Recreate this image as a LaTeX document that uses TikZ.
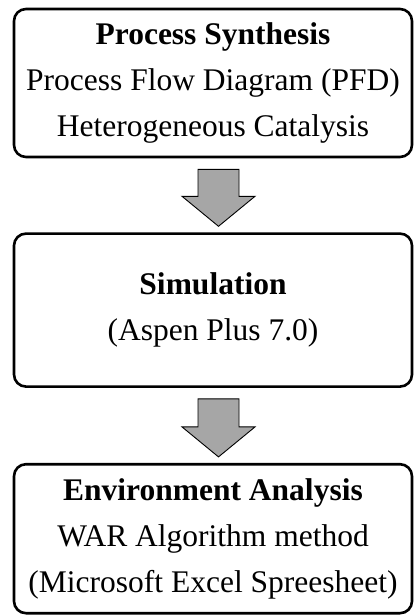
\documentclass[tikz,border=0pt]{standalone}
\usepackage{fontspec}
\setmainfont{Liberation Serif}
\usetikzlibrary{positioning,calc}
\definecolor{arrowgray}{RGB}{166,166,166}

\begin{document}
\begin{tikzpicture}[x=1pt,y=1pt,
    stage/.style={draw,line width=2.6pt,rounded corners=12pt,minimum width=398pt,
      align=center,inner sep=0pt,font=\fontsize{31.5}{46}\selectfont},
    blockarrow/.style={draw,line width=0.9pt,fill=arrowgray}]
\useasboundingbox (0,0) rectangle (415,-615);
\node[stage,minimum height=148pt] (synth) at (213,-83)
    {\textbf{Process Synthesis}\\Process Flow Diagram (PFD)\\Heterogeneous Catalysis};
\node[stage,minimum height=153pt,below=74pt of synth] (sim)
    {\textbf{Simulation}\\(Aspen Plus 7.0)};
\node[stage,minimum height=149pt,below=75pt of sim] (env)
    {\textbf{Environment Analysis}\\WAR Algorithm method\\(Microsoft Excel Spreesheet)};
% block arrows between the stages
\foreach \a/\b in {synth/sim,sim/env}{
  \coordinate (top) at ([xshift=5.5pt,yshift=-11pt]\a.south);
  \coordinate (tip) at ([xshift=5.5pt,yshift=6pt]\b.north);
  \draw[blockarrow] ([xshift=-20.5pt]top) -- ([xshift=-20.5pt,yshift=30pt]tip)
    -- ([xshift=-36.5pt,yshift=30pt]tip) -- (tip)
    -- ([xshift=36.5pt,yshift=30pt]tip) -- ([xshift=20.5pt,yshift=30pt]tip)
    -- ([xshift=20.5pt]top) -- cycle;
}
\end{tikzpicture}
\end{document}
